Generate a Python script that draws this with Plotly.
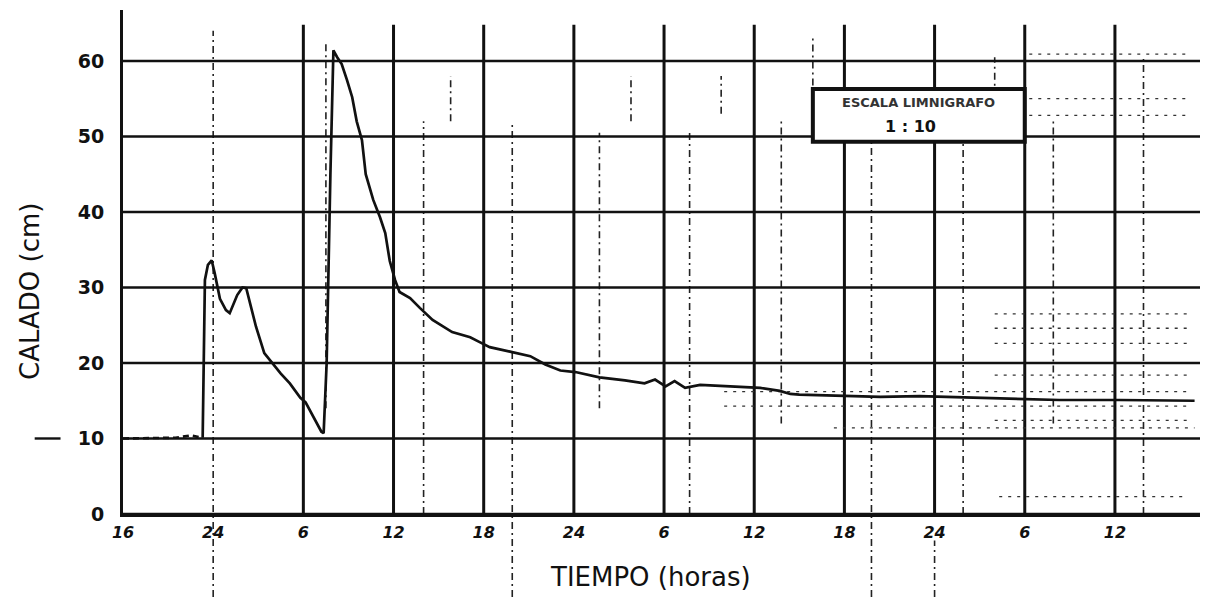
import plotly.graph_objects as go

# ---- recorded stage (limnigraph), time in hours from the first grid line ----
base_h = [0.0, 1.8, 3.5, 4.5, 5.0, 5.3]
base_cm = [10.0, 10.0, 10.1, 10.4, 10.2, 10.1]

hydro_h = [5.3, 5.45, 5.65, 5.9, 6.1, 6.45, 6.85, 7.1, 7.6, 7.95, 8.2, 8.45, 8.85,
           9.4, 10.1, 10.5, 11.1, 11.8, 12.15, 12.6, 13.2, 13.35, 13.55,
           13.8, 14.0, 14.25, 14.55, 14.9, 15.25, 15.55, 15.9, 16.15, 16.65, 17.1,
           17.45, 17.75, 18.1, 18.4, 19.1, 19.75, 20.6, 21.9, 23.1, 23.7, 24.4,
           25.75, 27.1, 28.1, 29.1, 30.1, 31.7, 33.4, 34.7, 35.4, 36.1, 36.7, 37.4,
           38.4, 40.4, 42.4, 43.7, 44.4, 45.0, 47.7, 50.4, 53.0, 55.0, 58.3, 60.3,
           62.3, 66.3, 69.0, 71.3]
hydro_cm = [10.1, 31.0, 33.0, 33.6, 31.9, 28.5, 27.0, 26.6, 29.0, 30.0, 29.9, 28.0,
            24.8, 21.3, 19.5, 18.6, 17.3, 15.4, 14.8, 13.1, 10.9, 10.7,
            20.0, 45.0, 61.4, 60.5, 59.6, 57.5, 55.2, 52.0, 49.5, 45.0, 41.6, 39.3,
            37.2, 33.5, 31.0, 29.4, 28.6, 27.3, 25.7, 24.1, 23.4, 22.8, 22.1, 21.5,
            20.9, 19.8, 19.0, 18.8, 18.1, 17.7, 17.3, 17.8, 16.9, 17.6, 16.7, 17.1,
            16.9, 16.7, 16.3, 15.9, 15.8, 15.6, 15.5, 15.6, 15.5, 15.4, 15.2, 15.1,
            15.1, 15.1, 15.0]

# ---- axes ----
time_ticks = [0, 6, 12, 18, 24, 30, 36, 42, 48, 54, 60, 66]
time_labels = ["16", "24", "6", "12", "18", "24", "6", "12", "18", "24", "6", "12"]
stage_ticks = [0, 10, 20, 30, 40, 50, 60]

X_MAX = 71.66
Y_MAX = 66.75

fig = go.Figure()

fig.add_trace(go.Scatter(x=base_h, y=base_cm, mode="lines",
                         line=dict(color="#111", width=2.6, dash="6px,4px"),
                         hoverinfo="skip", showlegend=False))
fig.add_trace(go.Scatter(x=hydro_h, y=hydro_cm, mode="lines",
                         line=dict(color="#111", width=2.7),
                         showlegend=False))

shapes = []
# solid horizontal rules
for v in stage_ticks:
    shapes.append(dict(type="line", xref="x", yref="y", x0=0, x1=X_MAX, y0=v, y1=v,
                       line=dict(color="#111", width=2.4), layer="below"))
# solid vertical rules (all labelled hours except the dash-dot one at 6 h)
for h in time_ticks[2:]:
    shapes.append(dict(type="line", xref="x", yref="y", x0=h, x1=h, y0=0, y1=64.8,
                       line=dict(color="#111", width=3), layer="below"))
# dash-dot vertical rules of the overlapped chart sheet: (hour, from cm, to cm)
dashdot = [(6.0, -11, 64.0), (13.5, 14, 62.5), (20.0, 0, 52), (25.9, -11, 52),
           (31.7, 14, 50.5), (37.7, 0, 51), (43.8, 12, 52.5), (49.8, -11, 52),
           (55.9, 0, 51), (61.9, 12, 52), (67.9, 0, 60.5),
           (21.8, 52, 58), (33.8, 52, 58), (39.8, 53, 58), (45.9, 50, 63), (58.0, 53, 60.5),
           (54.0, -11, -3.5)]
for h, a, b in dashdot:
    shapes.append(dict(type="line", xref="x", yref="paper", x0=h, x1=h,
                       y0=a / Y_MAX, y1=b / Y_MAX,
                       line=dict(color="#222", width=1.6, dash="7px,4px,2px,4px"),
                       layer="below"))
# light dotted rules on the right margin of the sheet
dotted = [(60.3, 71.0, 60.9), (60.3, 71.0, 55.0), (60.3, 71.0, 52.8),
          (58.0, 71.0, 26.5), (58.0, 71.0, 24.6), (58.0, 71.0, 22.6),
          (58.0, 71.0, 18.4), (40.0, 71.0, 16.2), (40.0, 71.0, 14.3),
          (58.0, 71.0, 12.4), (47.3, 71.3, 11.4), (58.3, 70.8, 2.3)]
for a, b, v in dotted:
    shapes.append(dict(type="line", xref="x", yref="y", x0=a, x1=b, y0=v, y1=v,
                       line=dict(color="#333", width=1.3, dash="3px,6px"), layer="below"))
# instrument scale stamp
shapes.append(dict(type="rect", xref="x", yref="y", x0=45.9, x1=60.0, y0=49.3, y1=56.3,
                   line=dict(color="#111", width=4), fillcolor="white", layer="above"))
# stub at the 10 cm reference mark
shapes.append(dict(type="line", xref="paper", yref="y", x0=-0.082, x1=-0.058, y0=10, y1=10,
                   line=dict(color="#111", width=2.4)))

W, H = 1206, 598
L, R, T, B = 123, 6, 10, 84


def px(xp, yp):
    """Figure pixel position -> paper fraction of the plotting area."""
    return (xp - L) / (W - L - R), (H - B - yp) / (H - T - B)


cal_x, cal_y = px(30, 292)
tie_x, tie_y = px(650, 577)

fig.update_layout(
    width=W, height=H,
    margin=dict(l=L, r=R, t=T, b=B),
    paper_bgcolor="white", plot_bgcolor="white",
    shapes=shapes,
    xaxis=dict(range=[0, X_MAX], tickmode="array", tickvals=time_ticks,
               ticktext=[f"<b><i>{t}</i></b>" for t in time_labels],
               tickfont=dict(family="DejaVu Sans", size=16, color="#111"),
               showgrid=False, zeroline=False, showline=True, linecolor="#111",
               linewidth=3, ticks="", ticklabelstandoff=2),
    yaxis=dict(range=[0, Y_MAX], tickmode="array", tickvals=stage_ticks,
               tickfont=dict(family="DejaVu Sans", size=19, color="#111"),
               ticktext=[f"<b>{v}</b>" for v in stage_ticks],
               showgrid=False, zeroline=False, showline=True, linecolor="#111",
               linewidth=3, ticks="", ticklen=0, ticklabelstandoff=12),
    annotations=[
        dict(text="CALADO (cm)", x=cal_x, y=cal_y, xref="paper", yref="paper",
             xanchor="center", yanchor="middle", showarrow=False, textangle=-90,
             font=dict(family="DejaVu Sans", size=26, color="#111")),
        dict(text="TIEMPO (horas)", x=tie_x, y=tie_y, xref="paper", yref="paper",
             xanchor="center", yanchor="middle", showarrow=False,
             font=dict(family="DejaVu Sans", size=26, color="#111")),
        dict(text="<b>ESCALA LIMNIGRAFO</b>", x=52.9, y=54.5, xref="x", yref="y",
             xanchor="center", yanchor="middle", showarrow=False,
             font=dict(family="DejaVu Sans", size=13, color="#333")),
        dict(text="<b>1 : 10</b>", x=52.4, y=51.3, xref="x", yref="y",
             xanchor="center", yanchor="middle", showarrow=False,
             font=dict(family="DejaVu Sans", size=16, color="#111")),
        dict(text="<i>(7</i>", x=4.5, y=-7.5, xref="x", yref="y", showarrow=False,
             xanchor="center", yanchor="middle",
             font=dict(family="DejaVu Sans", size=22, color="#333")),
        dict(text="8", x=23.8, y=-7.6, xref="x", yref="y", showarrow=False,
             xanchor="center", yanchor="middle",
             font=dict(family="DejaVu Sans", size=22, color="#333")),
        dict(text="b|", x=47.2, y=-7.6, xref="x", yref="y", showarrow=False,
             xanchor="center", yanchor="middle",
             font=dict(family="DejaVu Sans", size=24, color="#333")),
    ],
)

fig.write_html("out.html")
